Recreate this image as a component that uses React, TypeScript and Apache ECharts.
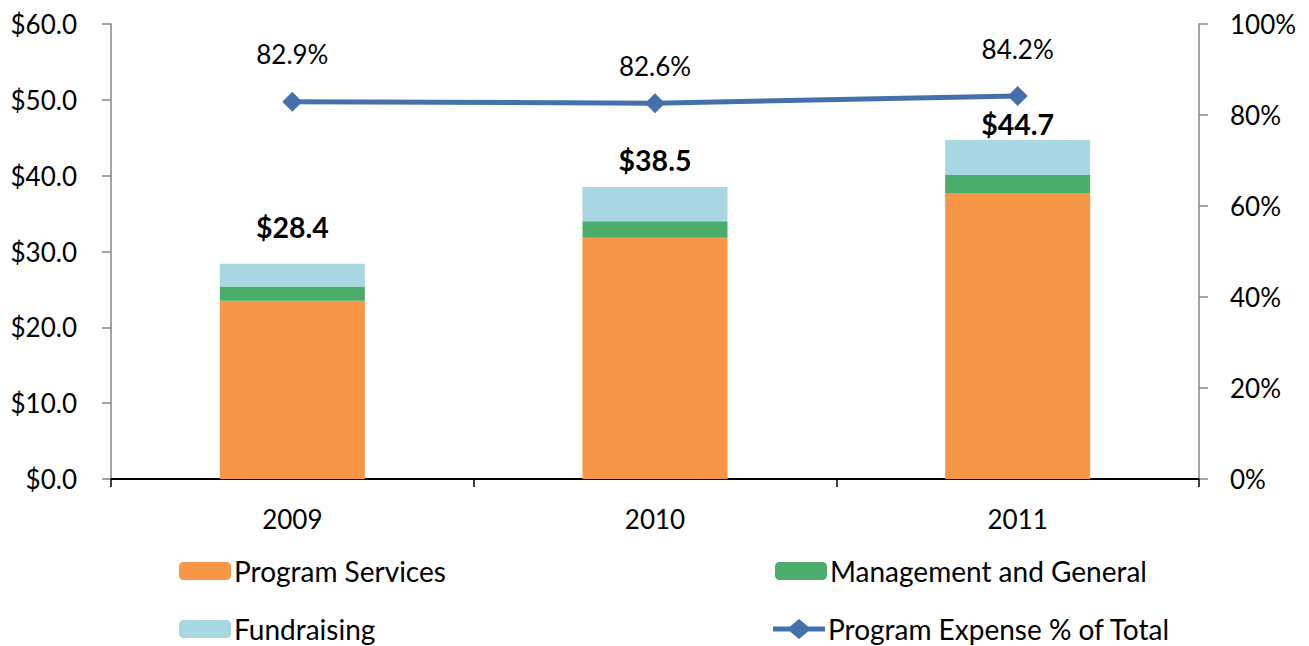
import React, { useEffect, useRef } from "react";
import * as echarts from "echarts";

const years = ["2009", "2010", "2011"];
const programServices = [23.5, 31.8, 37.7];
const managementGeneral = [1.9, 2.2, 2.4];
const fundraising = [3.0, 4.5, 4.6];
const programPct = [82.9, 82.6, 84.2];

const leftTicks = { min: 0, max: 60, interval: 10 };
const rightTicks = { min: 0, max: 100, interval: 20 };

// label styling (not data)
const totalLabelDistance = [22, 13, 2];
const pctLabelDistance = [25, 14, 24];

const FONT = "Lato";
const FS = 26;
const LEGEND_FS = 28;

const lineDiamondIcon =
  "path://M0,7.5 L17,7.5 L26,0 L35,7.5 L52,7.5 L52,12.5 L35,12.5 L26,20 L17,12.5 L0,12.5 Z";

export default function App() {
  const ref = useRef<HTMLDivElement>(null);
  useEffect(() => {
    if (!ref.current) return;
    const chart = echarts.init(ref.current, null, { renderer: "svg" });
    const totals = years.map((_, i) => +(programServices[i] + managementGeneral[i] + fundraising[i]).toFixed(1));
    const textBase = { fontFamily: FONT, fontSize: FS, color: "#000" };
    const legendBase = {
      padding: 0,
      itemWidth: 52,
      itemHeight: 18,
      itemGap: 0,
      textStyle: { fontFamily: FONT, fontSize: LEGEND_FS, color: "#000", padding: [0, 0, 0, -2] },
      selectedMode: false,
    };
    chart.setOption({
      animation: false,
      textStyle: { fontFamily: FONT },
      grid: { left: 111, right: 110, top: 24, bottom: 167 },
      legend: [
        { ...legendBase, data: ["Program Services"], left: 179, top: 557 },
        { ...legendBase, data: ["Management and General"], left: 775, top: 557 },
        { ...legendBase, data: ["Fundraising"], left: 179, top: 615 },
        {
          ...legendBase,
          itemHeight: 20,
          data: [
            {
              name: "Program Expense % of Total",
              icon: lineDiamondIcon,
              itemStyle: { color: "#4471A9" },
            },
          ],
          left: 773,
          top: 615,
        },
      ],
      xAxis: {
        type: "category",
        data: years,
        axisLine: { lineStyle: { color: "#000", width: 2 } },
        axisTick: { show: true, length: 8, lineStyle: { color: "#000", width: 1.5 } },
        axisLabel: { ...textBase, margin: 27 },
        splitLine: { show: false },
      },
      yAxis: [
        {
          type: "value",
          position: "left",
          ...leftTicks,
          axisLine: { show: true, lineStyle: { color: "#868686", width: 1.5 } },
          axisTick: { show: true, length: 9, lineStyle: { color: "#868686", width: 1.5 } },
          axisLabel: { ...textBase, margin: 34, formatter: (v: number) => "$" + v.toFixed(1) },
          splitLine: { show: false },
        },
        {
          type: "value",
          position: "right",
          ...rightTicks,
          axisLine: { show: true, lineStyle: { color: "#868686", width: 1.5 } },
          axisTick: { show: true, length: 9, lineStyle: { color: "#868686", width: 1.5 } },
          axisLabel: { ...textBase, margin: 31, formatter: "{value}%" },
          splitLine: { show: false },
        },
      ],
      series: [
        {
          name: "Program Services",
          type: "bar",
          stack: "total",
          barWidth: 145,
          itemStyle: { color: "#F79646" },
          data: programServices,
        },
        {
          name: "Management and General",
          type: "bar",
          stack: "total",
          barWidth: 145,
          itemStyle: { color: "#4BAC6B" },
          data: managementGeneral,
        },
        {
          name: "Fundraising",
          type: "bar",
          stack: "total",
          barWidth: 145,
          itemStyle: { color: "#A8D6E1" },
          data: fundraising.map((v, i) => ({
            value: v,
            label: {
              show: true,
              position: "top",
              distance: totalLabelDistance[i],
              formatter: () => "$" + totals[i].toFixed(1),
              fontFamily: FONT,
              fontWeight: "bold",
              fontSize: 28.5,
              color: "#000",
            },
          })),
        },
        {
          name: "Program Expense % of Total",
          type: "line",
          yAxisIndex: 1,
          symbol: "diamond",
          symbolSize: 20,
          itemStyle: { color: "#4471A9" },
          lineStyle: { color: "#4471A9", width: 5 },
          z: 5,
          data: programPct.map((v, i) => ({
            value: v,
            label: {
              show: true,
              position: "top",
              distance: pctLabelDistance[i],
              formatter: (p: any) => Number(p.value).toFixed(1) + "%",
              ...textBase,
            },
          })),
        },
      ],
    });
    return () => chart.dispose();
  }, []);
  return (
    <div
      ref={ref}
      style={{ position: "fixed", left: 0, top: 0, width: 1309, height: 646, background: "#fff" }}
    />
  );
}
